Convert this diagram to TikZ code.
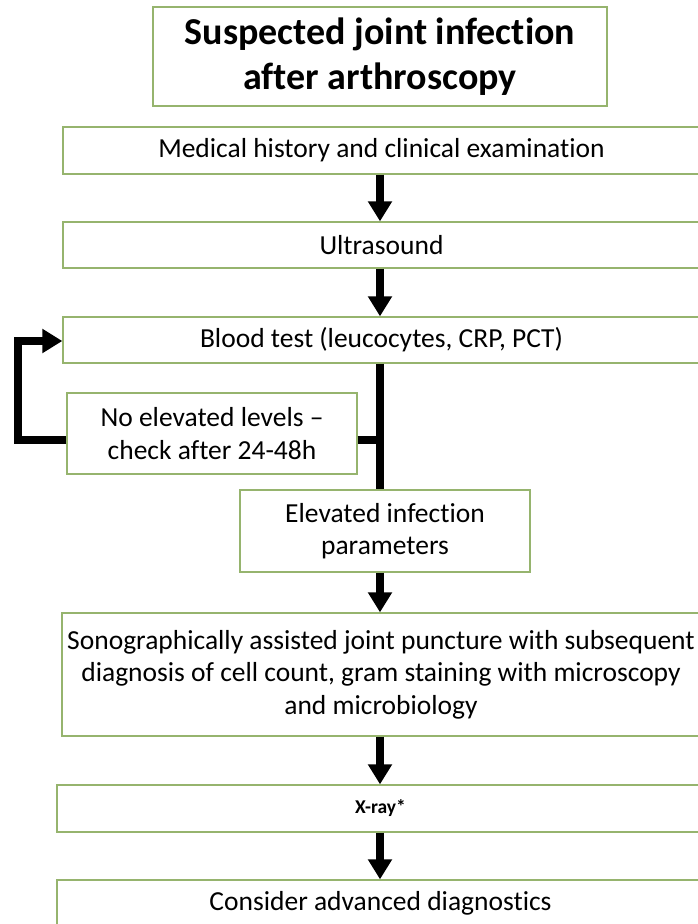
\documentclass[tikz,border=0pt]{standalone}
\usepackage{fontspec}
\setmainfont{Carlito}[Ligatures=NoCommon]
\usetikzlibrary{arrows.meta}
\definecolor{boxgreen}{RGB}{150,180,110}
\begin{document}
\begin{tikzpicture}[x=1pt,y=-1pt,
  box/.style={draw=boxgreen,line width=1.3pt,fill=white,inner sep=0pt,align=center,
    font=\fontsize{27.5}{32.5}\selectfont},
  arr/.style={line width=8pt,-{Triangle[width=23pt,length=20pt]}},
  conn/.style={line width=8pt}]
\useasboundingbox (0,0) rectangle (698,924);
\fill[white] (0,0) rectangle (698,924);
\coordinate (ax) at (380,0);
\coordinate (fy) at (0,440);
\coordinate (lp) at (18,341);
\node[box,minimum width=454pt,minimum height=99pt,font=\fontsize{38}{45}\selectfont\bfseries] (title) at (380,56.5) {Suspected joint infection\\after arthroscopy};
\node[box,minimum width=637pt,minimum height=47pt] (med) at (381.5,150.5) {Medical history and clinical examination};
\node[box,minimum width=637pt,minimum height=46pt] (us) at (381.5,245) {Ultrasound};
\node[box,minimum width=637pt,minimum height=46pt] (blood) at (381.5,340) {Blood test (leucocytes, CRP, PCT)};
\node[box,minimum width=290pt,minimum height=81pt] (noel) at (212,433.5) {No elevated levels --\\check after 24-48h};
\node[box,minimum width=290pt,minimum height=82pt] (elev) at (385,531) {Elevated infection\\parameters};
\node[box,minimum width=638pt,minimum height=123pt] (sono) at (381,674.5) {Sonographically assisted joint puncture with subsequent\\diagnosis of cell count, gram staining with microscopy\\and microbiology};
\node[box,minimum width=647pt,minimum height=47pt,font=\fontsize{19.5}{23}\selectfont\bfseries] (xray) at (380.5,808.5) {X-ray*};
\node[box,minimum width=647pt,minimum height=47pt] (cons) at (380.5,903.5) {Consider advanced diagnostics};
\draw[arr] (med.south -| ax) -- (us.north -| ax);
\draw[arr] (us.south -| ax) -- (blood.north -| ax);
\draw[conn] (blood.south -| ax) -- (elev.north -| ax);
\draw[conn] (noel.east |- fy) -- (fy -| ax);
\draw[arr] (noel.west |- fy) -| (lp) -- (blood.west |- lp);
\draw[arr] (elev.south -| ax) -- (sono.north -| ax);
\draw[arr] (sono.south -| ax) -- (xray.north -| ax);
\draw[arr] (xray.south -| ax) -- (cons.north -| ax);
\end{tikzpicture}
\end{document}
